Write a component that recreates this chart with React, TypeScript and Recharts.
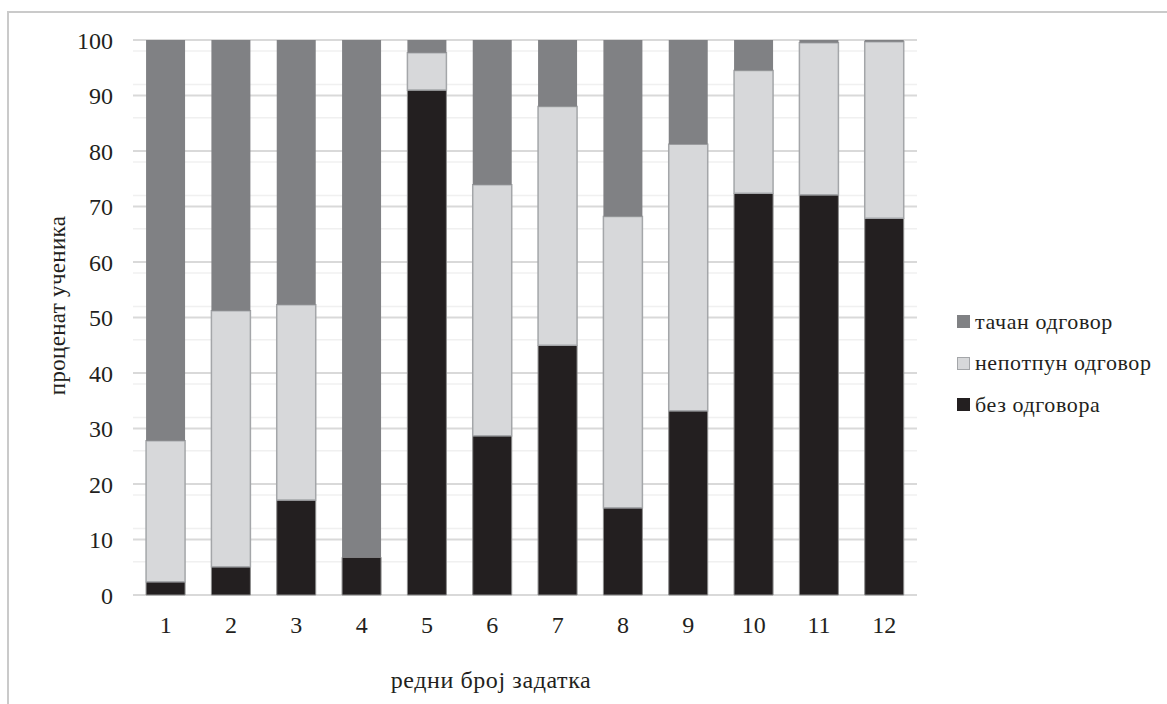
import React from "react";
import { BarChart, Bar, XAxis, YAxis, CartesianGrid, Label } from "recharts";

const tasks = ["1", "2", "3", "4", "5", "6", "7", "8", "9", "10", "11", "12"];
const noAnswer = [2.4, 5.1, 17.1, 6.8, 91.0, 28.7, 45.0, 15.7, 33.2, 72.4, 72.1, 67.9];
const partial = [25.4, 46.1, 35.2, 0, 6.7, 45.2, 43.0, 52.5, 48.0, 22.1, 27.4, 31.8];
const correct = [72.2, 48.8, 47.7, 93.2, 2.3, 26.1, 12.0, 31.8, 18.8, 5.5, 0.5, 0.3];
const yTicks = [0, 10, 20, 30, 40, 50, 60, 70, 80, 90, 100];
const minorTicks = [2, 4, 6, 8, 12, 14, 16, 18, 22, 24, 26, 28, 32, 34, 36, 38, 42, 44, 46, 48, 52, 54, 56, 58, 62, 64, 66, 68, 72, 74, 76, 78, 82, 84, 86, 88, 92, 94, 96, 98];

const data = tasks.map((t, i) => ({
  task: t,
  noAnswer: noAnswer[i],
  partial: partial[i],
  correct: correct[i],
}));

const FONT = "'Liberation Serif', serif";
const INK = "#231f20";

const legendItems = [
  { label: "тачан одговор", fill: "#808184", stroke: "#808184" },
  { label: "непотпун одговор", fill: "#d7d8da", stroke: "#a4a6a9" },
  { label: "без одговора", fill: "#231f20", stroke: "#231f20" },
];

// x title sits a bit left of the plot centre in the original
// eslint-disable-next-line @typescript-eslint/no-explicit-any
const XTitle = ({ viewBox }: any) => (
  <text
    x={viewBox.x + viewBox.width / 2 - 34}
    y={viewBox.y + 93}
    textAnchor="middle"
    style={{ fontFamily: FONT, fontSize: 24, fill: INK, letterSpacing: 0.6 }}
  >
    редни број задатка
  </text>
);

// eslint-disable-next-line @typescript-eslint/no-explicit-any
const YTitle = ({ viewBox }: any) => {
  const cx = 57;
  const cy = viewBox.y + viewBox.height / 2 - 12;
  return (
    <text
      x={cx}
      y={cy}
      transform={`rotate(-90 ${cx} ${cy})`}
      textAnchor="middle"
      dominantBaseline="central"
      style={{ fontFamily: FONT, fontSize: 23, fill: INK, letterSpacing: 0.3 }}
    >
      проценат ученика
    </text>
  );
};

export default function App() {
  return (
    <div style={{ position: "absolute", left: 0, top: 0, width: 1167, height: 704, overflow: "hidden", background: "#fff" }}>
      <div
        style={{
          position: "absolute",
          left: 7,
          top: 11,
          width: 1300,
          height: 900,
          borderLeft: "2px solid #cacaca",
          borderTop: "2px solid #cacaca",
        }}
      />
      <div style={{ position: "absolute", left: 0, top: 0 }}>
        <BarChart
          width={1167}
          height={704}
          data={data}
          margin={{ top: 40, right: 250, left: 73, bottom: 49 }}
          barCategoryGap="20%"
        >
          <CartesianGrid vertical={false} horizontalValues={minorTicks} stroke="#f0f0f0" strokeWidth={1.5} />
          <CartesianGrid vertical={false} horizontalValues={yTicks} stroke="#d9d9d9" strokeWidth={2} />
          <XAxis
            dataKey="task"
            axisLine={false}
            tickLine={false}
            tickSize={0}
            tickMargin={21}
            height={60}
            tick={{ fontFamily: FONT, fontSize: 24, fill: INK }}
          >
            <Label content={<XTitle />} />
          </XAxis>
          <YAxis
            domain={[0, 100]}
            ticks={yTicks}
            axisLine={false}
            tickLine={false}
            tickSize={0}
            tickMargin={20}
            width={60}
            tick={{ fontFamily: FONT, fontSize: 24, fill: INK }}
          >
            <Label content={<YTitle />} />
          </YAxis>
          <Bar dataKey="noAnswer" stackId="a" fill="#231f20" stroke="#8c8c8c" strokeWidth={1} isAnimationActive={false} />
          <Bar dataKey="partial" stackId="a" fill="#d7d8da" stroke="#a4a6a9" strokeWidth={1.5} isAnimationActive={false} />
          <Bar dataKey="correct" stackId="a" fill="#808184" isAnimationActive={false} />
        </BarChart>
      </div>
      <div style={{ position: "absolute", left: 957, top: 301, fontFamily: FONT, fontSize: 22, letterSpacing: 0.6, color: INK }}>
        {legendItems.map((it) => (
          <div key={it.label} style={{ display: "flex", alignItems: "center", height: 41.5, whiteSpace: "nowrap" }}>
            <span
              style={{
                display: "inline-block",
                width: 11,
                height: 11,
                background: it.fill,
                border: `1px solid ${it.stroke}`,
                marginRight: 5,
                flexShrink: 0,
              }}
            />
            {it.label}
          </div>
        ))}
      </div>
    </div>
  );
}
